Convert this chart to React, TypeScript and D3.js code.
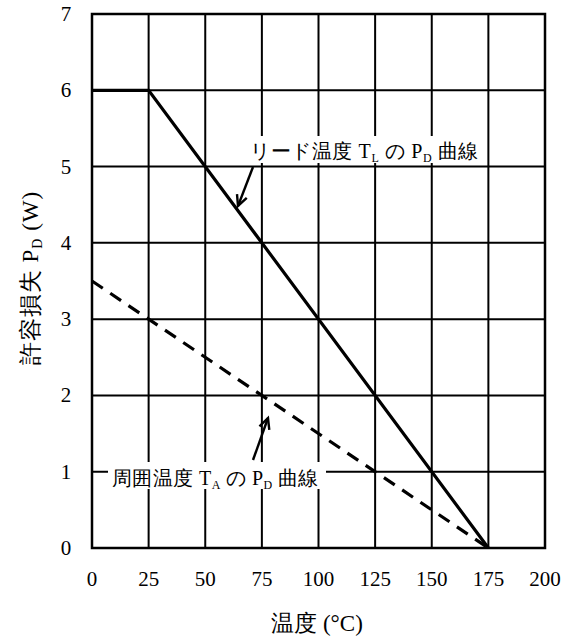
import React from "react";
import * as d3 from "d3";

const xTicks = [0, 25, 50, 75, 100, 125, 150, 175, 200];
const yTicks = [0, 1, 2, 3, 4, 5, 6, 7];
const leadTempX = [0, 25, 175];
const leadTempY = [6, 6, 0];
const ambientX = [0, 175];
const ambientY = [3.5, 0];

const W = 565, H = 641;
const M = { left: 92, right: 20, top: 14, bottom: 93 };

function Arrow({ x1, y1, x2, y2 }: { x1: number; y1: number; x2: number; y2: number }) {
  const a = Math.atan2(y2 - y1, x2 - x1);
  const L = 12, s = 0.45;
  const p1 = [x2 - L * Math.cos(a - s), y2 - L * Math.sin(a - s)];
  const p2 = [x2 - L * Math.cos(a + s), y2 - L * Math.sin(a + s)];
  return (
    <g stroke="#000" strokeWidth={2.4} fill="none">
      <line x1={x1} y1={y1} x2={x2} y2={y2} />
      <path d={`M${p1[0]},${p1[1]} L${x2},${y2} L${p2[0]},${p2[1]}`} />
    </g>
  );
}

export default function App() {
  const x = d3.scaleLinear().domain([0, 200]).range([M.left, W - M.right]);
  const y = d3.scaleLinear().domain([0, 7]).range([H - M.bottom, M.top]);
  const line = d3.line<[number, number]>().x(d => x(d[0])).y(d => y(d[1]));
  const lead: [number, number][] = leadTempX.map((v, i) => [v, leadTempY[i]]);
  const amb: [number, number][] = ambientX.map((v, i) => [v, ambientY[i]]);
  const font = '"Liberation Serif", "Times New Roman", "DejaVu Serif", serif';
  return (
    <svg width={W} height={H} style={{ position: "absolute", left: 0, top: 0, fontFamily: font }}>
      <rect x={0} y={0} width={W} height={H} fill="#fff" />
      {xTicks.map(t => (
        <line key={"gx" + t} x1={x(t)} x2={x(t)} y1={y(0)} y2={y(7)} stroke="#000" strokeWidth={2} />
      ))}
      {yTicks.map(t => (
        <line key={"gy" + t} x1={x(0)} x2={x(200)} y1={y(t)} y2={y(t)} stroke="#000" strokeWidth={2} />
      ))}
      <rect x={x(0)} y={y(7)} width={x(200) - x(0)} height={y(0) - y(7)} fill="none" stroke="#000" strokeWidth={2.5} />
      {xTicks.map(t => (
        <text key={"tx" + t} x={x(t)} y={586} textAnchor="middle" fontSize={21}>{t}</text>
      ))}
      {yTicks.map(t => (
        <text key={"ty" + t} x={66} y={y(t) + 7} textAnchor="middle" fontSize={21}>{t}</text>
      ))}
      <path d={line(lead) || ""} fill="none" stroke="#000" strokeWidth={3.2} />
      <path d={line(amb) || ""} fill="none" stroke="#000" strokeWidth={3.2} strokeDasharray="13 9" />

      <rect x={246} y={136} width={236} height={27} fill="#fff" />
      <text x={250} y={158} fontSize={20} letterSpacing={0.6}>
        リード温度 T<tspan fontSize={12} dy={4}>L</tspan><tspan dy={-4}> の P</tspan><tspan fontSize={12} dy={4}>D</tspan><tspan dy={-4}> 曲線</tspan>
      </text>
      <Arrow x1={253} y1={167} x2={238} y2={206} />

      <rect x={108} y={462} width={218} height={27} fill="#fff" />
      <text x={112} y={485} fontSize={20} letterSpacing={0.4}>
        周囲温度 T<tspan fontSize={12} dy={4}>A</tspan><tspan dy={-4}> の P</tspan><tspan fontSize={12} dy={4}>D</tspan><tspan dy={-4}> 曲線</tspan>
      </text>
      <Arrow x1={253} y1={460} x2={268} y2={418} />

      <text x={317} y={631} textAnchor="middle" fontSize={23}>温度 (°C)</text>
      <text transform="translate(38,278) rotate(-90)" textAnchor="middle" fontSize={23} letterSpacing={1}>
        許容損失 P<tspan fontSize={14} dy={4}>D</tspan><tspan dy={-4}> (W)</tspan>
      </text>
    </svg>
  );
}
